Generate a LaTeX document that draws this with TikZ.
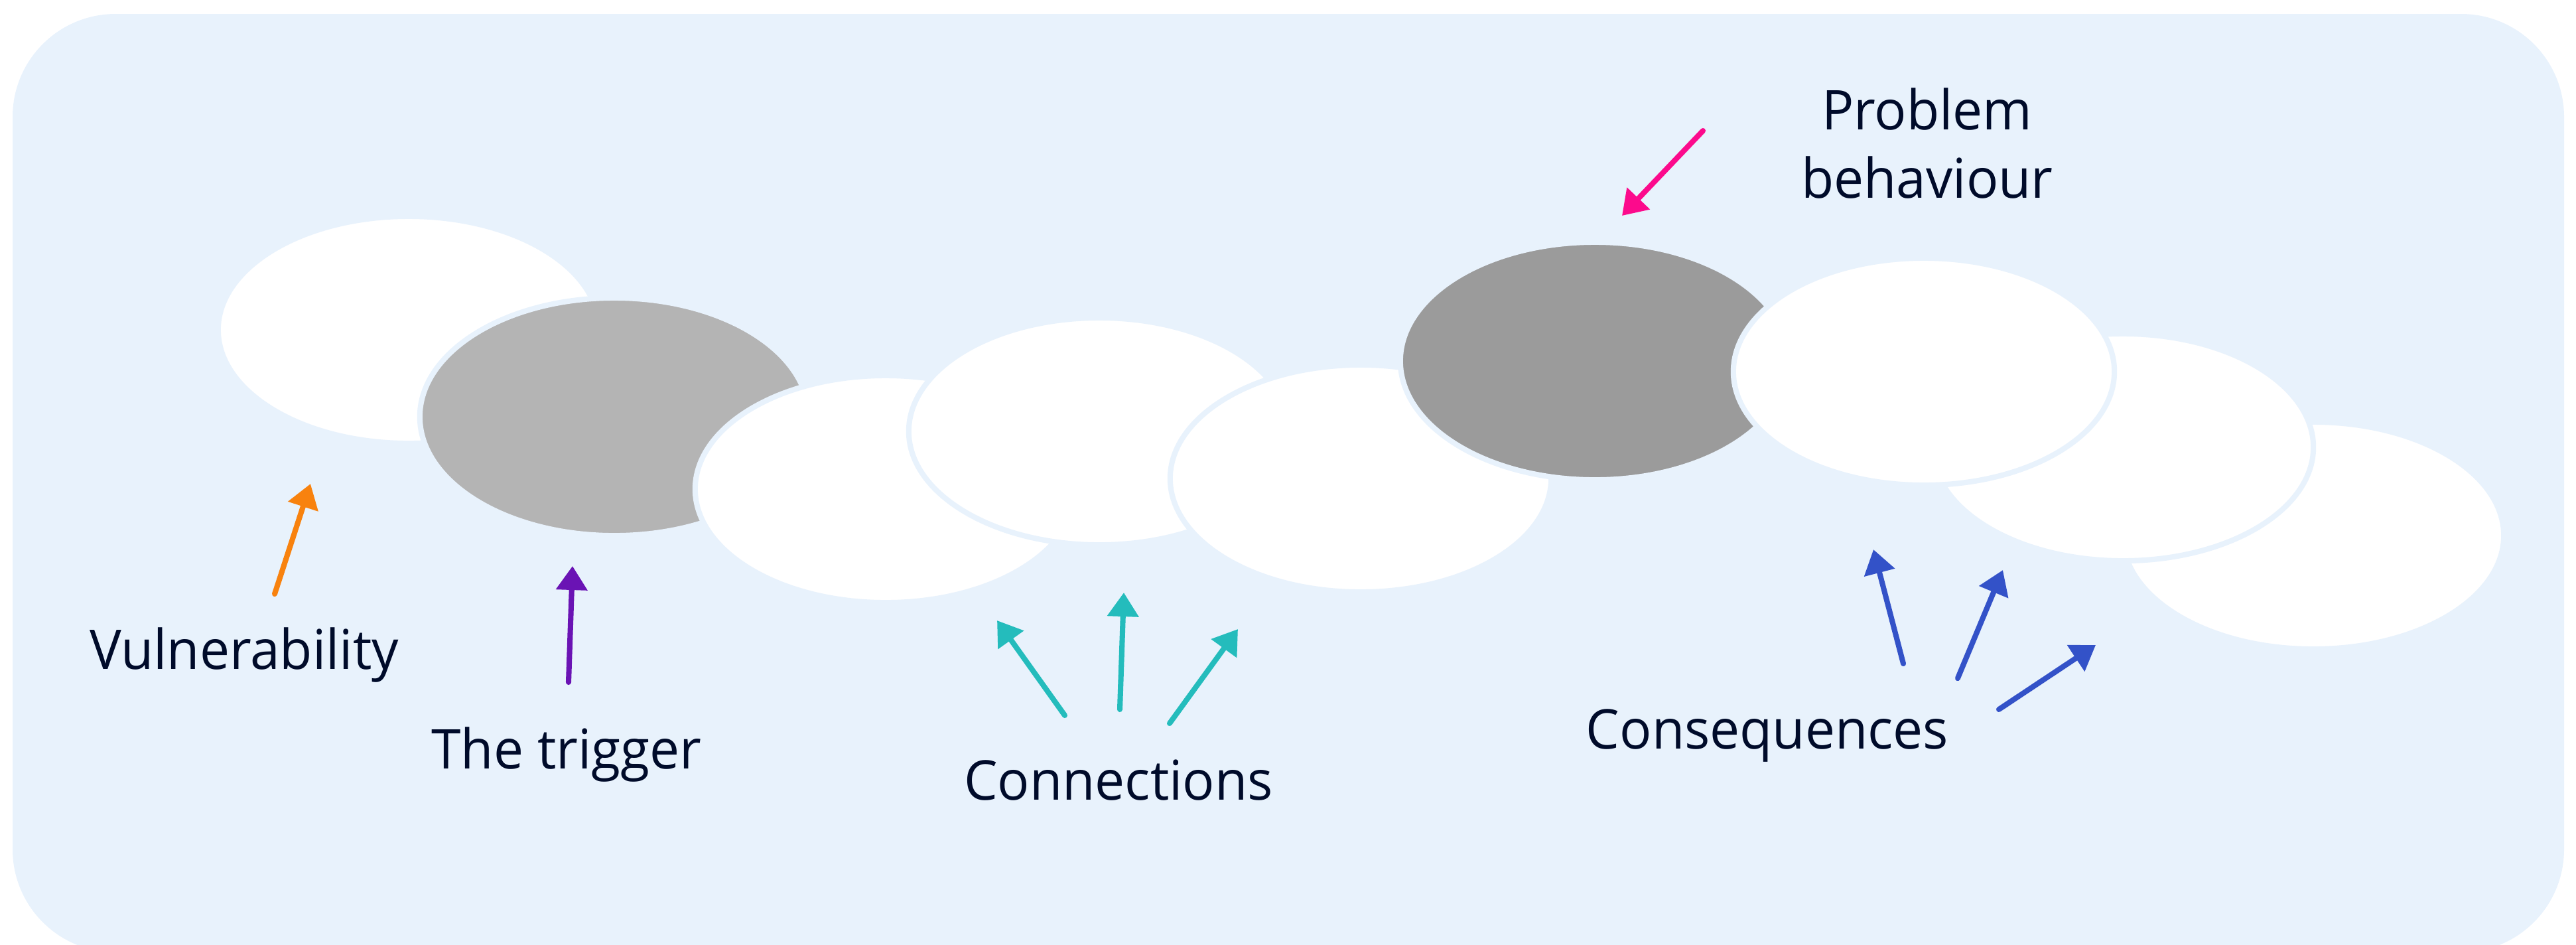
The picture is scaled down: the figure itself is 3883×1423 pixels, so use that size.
\documentclass[tikz,border=0pt]{standalone}
\usepackage{fontspec}
\setmainfont{Open Sans}[FakeStretch=0.972]
\usetikzlibrary{shapes.geometric,arrows.meta}
\definecolor{bgblue}{HTML}{E8F2FC}
\definecolor{grayA}{HTML}{B4B4B4}
\definecolor{grayB}{HTML}{9B9B9B}
\definecolor{txt}{HTML}{000B2A}
\definecolor{aorange}{HTML}{F8820E}
\definecolor{apurple}{HTML}{6A13B4}
\definecolor{ateal}{HTML}{24BCBC}
\definecolor{apink}{HTML}{FC0A8C}
\definecolor{ablue}{HTML}{3352C8}
\tikzset{
  blob/.style={ellipse, inner sep=0pt, minimum width=5.74cm, minimum height=3.42cm,
    fill=white, draw=bgblue, line width=2.3pt},
  darkblob/.style={blob, minimum width=5.86cm, minimum height=3.58cm},
  lbl/.style={inner sep=0pt, text=txt, font=\fontsize{23.5}{29.3}\selectfont},
  pointer/.style={line width=2.3pt, line cap=round, -{Triangle[length=0.36cm,width=0.46cm]}}
}
\begin{document}
\begin{tikzpicture}[x=0.01cm,y=-0.01cm]
\useasboundingbox (0,0) rectangle (3883,1423);
\fill[bgblue, rounded corners=1.55cm] (19,21) rectangle (3865,1435);
% ellipses
\node[blob] (e1) at (616,497) {};
\node[darkblob, fill=grayA] (e2) at (926,628) {};
\node[blob] (e3) at (1335,737) {};
\node[blob] (e4) at (1657,650) {};
\node[blob] (e5) at (2051,721) {};
\node[darkblob, fill=grayB] (e6) at (2404,544) {};
\node[blob] (e9) at (3487,807) {};
\node[blob] (e8) at (3200,674) {};
\node[blob] (e7) at (2900,560) {};
% labels
\node[lbl, anchor=base] (vul) at (368,1008) {Vulnerability};
\node[lbl, anchor=base] (trig) at (854,1158) {The trigger};
\node[lbl, anchor=base] (conn) at (1686,1205) {Connections};
\node[lbl, align=center, anchor=center] (prob) at (2905,216) {Problem\\behaviour};
\node[lbl, anchor=base] (cons) at (2664,1128) {Consequences};
% arrow ends
\coordinate (o1) at (414,895);  \coordinate (o2) at (468,729);
\coordinate (p1) at (857,1028); \coordinate (p2) at (863,853);
\coordinate (t1a) at (1605,1078); \coordinate (t1b) at (1503,935);
\coordinate (t2a) at (1688,1069); \coordinate (t2b) at (1694,893);
\coordinate (t3a) at (1763,1090); \coordinate (t3b) at (1866,948);
\coordinate (k1) at (2567,197); \coordinate (k2) at (2445,325);
\coordinate (b1a) at (2869,1000); \coordinate (b1b) at (2824,828);
\coordinate (b2a) at (2951,1022); \coordinate (b2b) at (3019,859);
\coordinate (b3a) at (3013,1069); \coordinate (b3b) at (3159,972);
% arrows
\draw[pointer, aorange] (o1) -- (o2);
\draw[pointer, apurple] (p1) -- (p2);
\draw[pointer, ateal] (t1a) -- (t1b);
\draw[pointer, ateal] (t2a) -- (t2b);
\draw[pointer, ateal] (t3a) -- (t3b);
\draw[pointer, apink] (k1) -- (k2);
\draw[pointer, ablue] (b1a) -- (b1b);
\draw[pointer, ablue] (b2a) -- (b2b);
\draw[pointer, ablue] (b3a) -- (b3b);
\end{tikzpicture}
\end{document}
